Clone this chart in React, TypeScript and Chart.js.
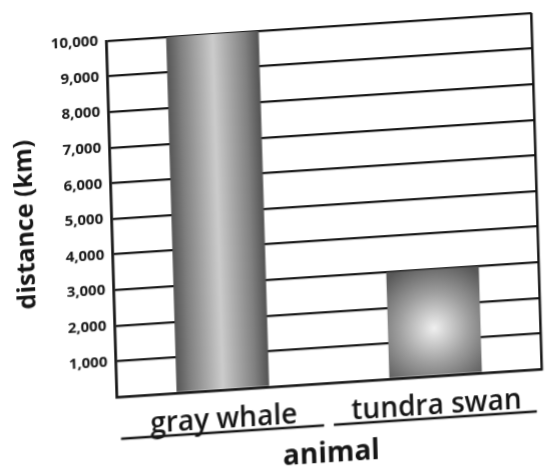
import React, { useEffect, useRef } from "react";
import { Chart, registerables } from "chart.js";

Chart.register(...registerables);

const categories = ["gray whale", "tundra swan"];
const distanceKm = [10000, 3000];
const yTicks = [1000, 2000, 3000, 4000, 5000, 6000, 7000, 8000, 9000, 10000];

const BAR_PCT = 0.435;
const INK = "#151515";

function barFill(ctx: any) {
  const chart = ctx.chart;
  const area = chart.chartArea;
  if (!area || ctx.type !== "data") return "#9a9a9a";
  const c = chart.ctx as CanvasRenderingContext2D;
  const xs = chart.scales.x;
  const ys = chart.scales.y;
  const cx = xs.getPixelForValue(ctx.dataIndex);
  const w = (area.width / categories.length) * BAR_PCT;
  const yTop = ys.getPixelForValue(ctx.raw);
  const yBase = ys.getPixelForValue(0);
  const h = yBase - yTop;
  if (h > 2 * w) {
    const g = c.createLinearGradient(cx - w / 2, 0, cx + w / 2, 0);
    g.addColorStop(0, "#555555");
    g.addColorStop(0.15, "#808080");
    g.addColorStop(0.5, "#cccccc");
    g.addColorStop(0.85, "#808080");
    g.addColorStop(1, "#525252");
    return g;
  }
  const g = c.createRadialGradient(cx, yTop + h * 0.55, 0, cx, yTop + h * 0.55, w * 0.75);
  g.addColorStop(0, "#f0f0f0");
  g.addColorStop(0.5, "#a0a0a0");
  g.addColorStop(1, "#585858");
  return g;
}

const underlinePlugin = {
  id: "underlines",
  afterDraw(chart: any) {
    const xs = chart.scales.x;
    const c = chart.ctx as CanvasRenderingContext2D;
    const y = xs.top + 42;
    c.save();
    c.strokeStyle = INK;
    c.lineWidth = 2.5;
    xs.ticks.forEach((_t: any, i: number) => {
      const px = xs.getPixelForTick(i);
      c.beginPath();
      c.moveTo(px - 103, y);
      c.lineTo(px + 100, y);
      c.stroke();
    });
    c.restore();
  },
};

export default function App() {
  const ref = useRef<HTMLCanvasElement | null>(null);

  useEffect(() => {
    if (!ref.current) return;
    Chart.defaults.font.family = "'Open Sans', 'DejaVu Sans', sans-serif";
    Chart.defaults.color = INK;
    const chart = new Chart(ref.current, {
      type: "bar",
      data: {
        labels: categories,
        datasets: [
          {
            label: "distance (km)",
            data: distanceKm,
            backgroundColor: barFill,
            borderWidth: 0,
            barPercentage: BAR_PCT,
            categoryPercentage: 1,
          },
        ],
      },
      plugins: [underlinePlugin],
      options: {
        responsive: false,
        animation: false,
        devicePixelRatio: 1,
        layout: { padding: { top: 30, right: 31.5, left: 0, bottom: 0 } },
        plugins: {
          legend: { display: false },
          tooltip: { enabled: false },
        },
        scales: {
          x: {
            grid: {
              display: true,
              offset: true,
              drawTicks: false,
              lineWidth: 2.5,
              color: (c: any) => (c.index === 1 ? "rgba(0,0,0,0)" : INK),
            },
            border: { display: true, color: INK, width: 2.5 },
            ticks: {
              color: INK,
              padding: 13,
              font: { size: 28, weight: "600" },
            },
            title: {
              display: true,
              text: "animal",
              color: INK,
              font: { size: 28, weight: "bold", lineHeight: 1 },
              padding: { top: 0, bottom: 0 },
            },
            afterFit: (s: any) => {
              s.height = 85;
            },
          },
          y: {
            min: 0,
            max: 10000,
            afterBuildTicks: (s: any) => {
              s.ticks = [0, ...yTicks].map((v) => ({ value: v }));
            },
            grid: { color: INK, lineWidth: 2.3, drawTicks: false },
            border: { display: true, color: INK, width: 2.5 },
            ticks: {
              color: INK,
              padding: 8,
              font: { size: 15, weight: "bold" },
              callback: (v: any) => (Number(v) === 0 ? "" : Number(v).toLocaleString("en-US")),
            },
            title: {
              display: true,
              text: "distance (km)",
              color: INK,
              font: { size: 25, weight: "bold" },
              padding: { top: 0, bottom: 0 },
            },
            afterFit: (s: any) => {
              s.width = 100;
            },
          },
        },
      },
    });
    return () => chart.destroy();
  }, []);

  return (
    <div
      style={{
        position: "fixed",
        left: 0,
        top: 0,
        width: 557,
        height: 471,
        overflow: "hidden",
        background: "#ffffff",
      }}
    >
      <canvas
        ref={ref}
        width={557}
        height={471}
        style={{
          display: "block",
          width: 557,
          height: 471,
          transformOrigin: "0 0",
          transform: "matrix(1, -0.0658, 0.0295, 1, 5.1, 17.6)",
        }}
      />
    </div>
  );
}
